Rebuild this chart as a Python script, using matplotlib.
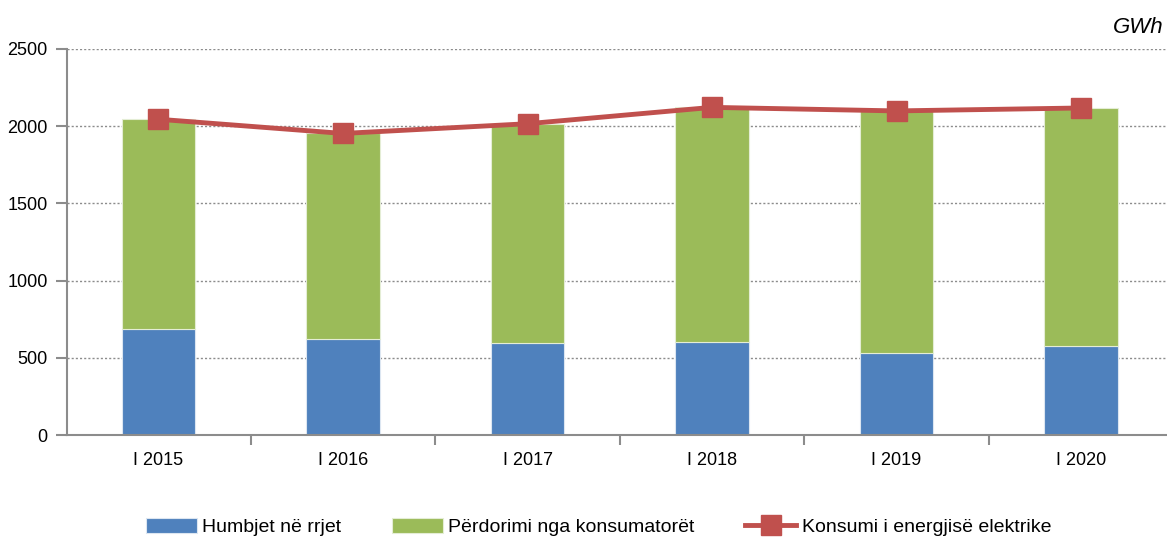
import numpy as np
import matplotlib.pyplot as plt
from matplotlib.ticker import MultipleLocator, FixedLocator

plt.rcParams['font.family'] = ['Liberation Sans', 'DejaVu Sans']

# data (GWh)
periods = ["I 2015", "I 2016", "I 2017", "I 2018", "I 2019", "I 2020"]
losses = [685, 622, 596, 600, 533, 574]            # Humbjet në rrjet
consumers = [1360, 1331, 1420, 1522, 1566, 1544]   # Përdorimi nga konsumatorët
total = [a + b for a, b in zip(losses, consumers)]  # Konsumi i energjisë elektrike

blue = '#4F81BD'
green = '#9BBB59'
red = '#C0504D'
gray = '#8C8C8C'

fig = plt.figure(figsize=(11.67, 5.42), dpi=100)
ax = fig.add_axes([0.0574, 0.1974, 0.9426, 0.7122])

x = np.arange(len(periods))
w = 0.4
b1 = ax.bar(x, losses, w, color=blue, edgecolor='#DCE6F1', linewidth=0.8,
            label="Humbjet në rrjet", zorder=2)
b2 = ax.bar(x, consumers, w, bottom=losses, color=green, edgecolor='#E4EDD5',
            linewidth=0.8, label="Përdorimi nga konsumatorët", zorder=2)
ln, = ax.plot(x, total, color=red, lw=3.5, marker='s', ms=14, mec=red,
              label="Konsumi i energjisë elektrike", zorder=3)

ax.set_ylim(0, 2500)
ax.set_xlim(-0.496, 5.466)
ax.yaxis.set_major_locator(MultipleLocator(500))
ax.grid(axis='y', color=gray, ls=(0, (1.5, 1.5)), lw=1.0, zorder=0)

ax.set_xticks(x)
ax.set_xticklabels(periods, fontsize=13)
ax.xaxis.set_minor_locator(FixedLocator(np.arange(-0.5, 6, 1)))
ax.tick_params(axis='x', which='major', length=0, pad=12)
ax.tick_params(axis='x', which='minor', length=7, width=1.5, color=gray, direction='out')
ax.tick_params(axis='y', length=8, width=1.5, color=gray, direction='out',
               labelsize=13, pad=6)

for s in ['top', 'right']:
    ax.spines[s].set_visible(False)
for s in ['left', 'bottom']:
    ax.spines[s].set_color(gray)
    ax.spines[s].set_linewidth(1.5)

fig.text(0.997, 0.95, "GWh", ha='right', va='center', fontsize=16, style='italic')

fig.legend(handles=[b1, b2, ln], loc='center', bbox_to_anchor=(0.513, 0.028),
           ncol=3, frameon=False, fontsize=14, handlelength=2.6, handleheight=0.8,
           columnspacing=2.6, handletextpad=0.3)

fig.savefig('out.png', dpi=100)
